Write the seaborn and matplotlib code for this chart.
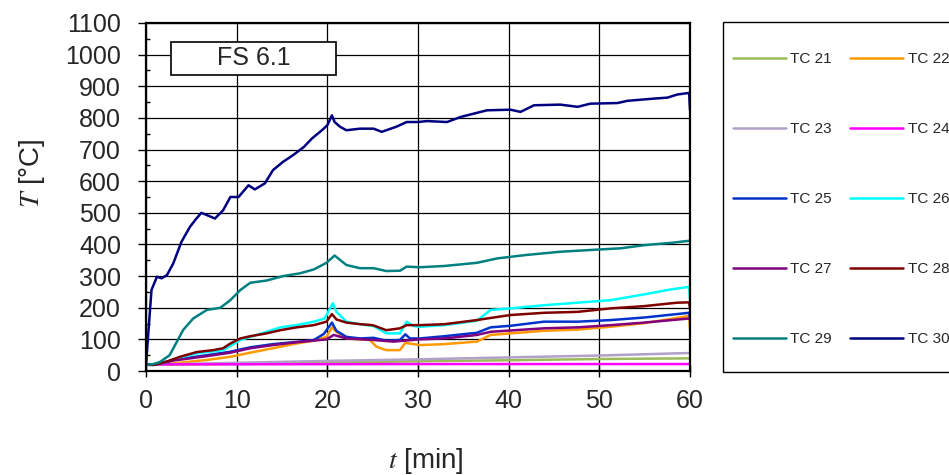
from matplotlib import pyplot as plt
from matplotlib.patches import Rectangle
import seaborn as sns
import pandas as pd

sns.set_theme(style="white")
plt.rcParams['font.family'] = ['Liberation Sans', 'DejaVu Sans']
plt.rcParams['mathtext.fontset'] = 'stix'

# Messstellen
names = ["TC 21", "TC 22", "TC 23", "TC 24", "TC 25",
         "TC 26", "TC 27", "TC 28", "TC 29", "TC 30"]
colors = ["#9BBB59", "#FF9900", "#B2A1C7", "#FF00FF", "#0033CC",
          "#00FFFF", "#800080", "#800000", "#008080", "#000080"]

# Zeit [min] und Temperatur [°C]
t21 = [0, 10, 20, 30, 40, 50, 60]
T21 = [20, 22, 26, 31, 34, 38, 40]

t22 = [0, 1, 3, 6.7, 9.3, 11.5, 14, 16.6, 18.5, 19.9, 20.5, 21, 22.1, 24.7, 25.4,
       26.5, 28, 28.6, 30.2, 32.9, 36.5, 38, 40.2, 43.9, 47.6, 51.25, 54.9, 59.9, 60]
T22 = [20, 20, 24, 35, 45, 58, 72, 87, 96, 108, 138, 124, 103, 98, 77,
       66, 66, 89, 82, 85, 93, 114, 119, 127, 131, 140, 151, 174, 131]

t23 = [0, 10, 20, 30, 40, 50, 60]
T23 = [20, 26, 32, 37, 43, 49, 57]

t24 = [0, 30, 60]
T24 = [21, 22, 22]

t25 = [0, 1, 3, 6.7, 9.3, 11.5, 14, 16.6, 18.5, 19.6, 20.5, 21, 22.1, 23.6, 25.1,
       26.5, 28, 28.6, 29.1, 30.2, 32.9, 36.5, 38, 40.2, 43.9, 47.6, 51.25, 54.9, 59.9, 60]
T25 = [20, 20, 35, 50, 61, 75, 85, 92, 98, 117, 153, 127, 108, 103, 105,
       96, 98, 116, 103, 103, 110, 121, 138, 143, 156, 156, 161, 169, 184, 169]

t26 = [0, 0.8, 2.3, 3.75, 5.6, 7.4, 8.5, 9.3, 10.4, 13.3, 14.8, 16.6, 18.5, 19.7, 20.6,
       21, 22.1, 23.6, 25.1, 26.5, 28, 28.75, 29.5, 30.2, 32.9, 36.5, 38, 40.2, 43.9,
       47.6, 51.25, 54.9, 57.9, 59.9, 60]
T26 = [20, 19, 28, 42, 56, 62, 66, 79, 98, 124, 138, 145, 156, 166, 214,
       187, 156, 148, 142, 119, 119, 156, 142, 140, 145, 159, 193, 198, 208,
       216, 224, 242, 258, 266, 224]

t27 = [0, 1, 3, 6.7, 9.3, 11.5, 14, 16.6, 18.5, 19.9, 20.7, 22.1, 25.1, 27.3, 30.2,
       32.9, 36.5, 38, 43.9, 47.6, 51.25, 54.9, 59.9, 60]
T27 = [20, 20, 33, 47, 58, 72, 82, 91, 96, 100, 114, 103, 98, 93, 100,
       103, 114, 124, 135, 138, 145, 153, 166, 163]

t28 = [0, 0.8, 2.3, 3.75, 5.6, 7.4, 8.5, 9.3, 10.4, 11.5, 13.3, 14.8, 16.6, 18.5, 19.9,
       20.5, 21, 22.1, 23.6, 25, 26.5, 28, 28.75, 30.2, 32.9, 36.5, 37.6, 40.2, 43.9,
       47.6, 51.25, 54.9, 58.6, 59.9, 60]
T28 = [20, 19, 30, 45, 60, 66, 72, 87, 103, 110, 119, 129, 138, 145, 156,
       180, 163, 153, 148, 145, 129, 135, 145, 145, 148, 161, 166, 177, 184,
       187, 198, 205, 216, 217, 198]

t29 = [0, 0.8, 1.5, 2.6, 4.1, 5.2, 6.7, 8.2, 9.3, 10.4, 11.5, 13.3, 15.1, 17, 18.5,
       19.9, 20.8, 22.1, 23.6, 25.1, 26.5, 28, 28.75, 30.2, 32.9, 36.5, 38.75, 42,
       45.7, 49.3, 52.4, 55, 57.9, 60]
T29 = [20, 22, 28, 50, 130, 166, 193, 200, 224, 256, 279, 286, 300, 309, 321,
       342, 365, 335, 325, 325, 316, 317, 330, 328, 332, 342, 356, 367,
       377, 383, 388, 398, 405, 412]

t30 = [0, 0.25, 0.6, 1.2, 1.7, 2.3, 3.0, 3.9, 4.85, 5.5, 6.1, 6.7, 7.6, 8.5, 9.3, 10.2,
       11.3, 12.0, 13.1, 14.0, 15.1, 16.2, 17.4, 18.3, 19.4, 20.0, 20.5, 20.8, 21.4,
       22.1, 23.6, 25.1, 26.0, 27.6, 28.75, 30, 31, 33.2, 34.7, 37.6, 40.2, 41.3, 42.8,
       45.7, 47.6, 49, 52, 53.1, 56, 57.5, 58.6, 59.9, 60]
T30 = [20, 120, 256, 298, 293, 303, 340, 408, 456, 480, 500, 493, 482, 508, 550, 550,
       587, 574, 593, 635, 661, 682, 708, 735, 761, 777, 808, 787, 772,
       761, 766, 766, 756, 772, 787, 787, 790, 787, 803, 824, 826, 819, 840,
       842, 835, 845, 847, 854, 861, 864, 874, 879, 824]

times = [t21, t22, t23, t24, t25, t26, t27, t28, t29, t30]
temps = [T21, T22, T23, T24, T25, T26, T27, T28, T29, T30]

rows = []
for n, ts, Ts in zip(names, times, temps):
    for a, b in zip(ts, Ts):
        rows.append({"TC": n, "t": a, "T": b})
df = pd.DataFrame(rows)

fig = plt.figure(figsize=(9.49, 4.75), dpi=100)
ax = fig.add_axes([0.1539, 0.2189, 0.5732, 0.7327])

sns.lineplot(data=df, x="t", y="T", hue="TC", hue_order=names,
             palette=dict(zip(names, colors)), estimator=None, sort=False,
             lw=1.8, ax=ax)

ax.set_xlim(0, 60)
ax.set_ylim(0, 1100)
ax.set_xticks(range(0, 61, 10))
ax.set_yticks(range(0, 1101, 100))
ax.set_yticks(range(50, 1100, 100), minor=True)
ax.grid(True, which="major", color="black", lw=0.9)
for s in ax.spines.values():
    s.set_color("black")
    s.set_linewidth(1.6)
ax.tick_params(axis="y", which="major", direction="out", length=6, width=1,
               color="black", labelsize=18, pad=12, left=True)
ax.tick_params(axis="y", which="minor", direction="in", length=3, width=1,
               color="black", left=True)
ax.tick_params(axis="x", which="major", direction="inout", length=8, width=1,
               color="black", labelsize=18, pad=9, bottom=True)

ax.set_xlabel(r"$t$ [min]", fontsize=20)
ax.set_ylabel(r"$T$ [°C]", fontsize=20)
ax.xaxis.set_label_coords(0.515, -0.215)
ax.yaxis.set_label_coords(-0.182, 0.57)

# Versuchsbezeichnung
ax.add_patch(Rectangle((0.046, 0.851), 0.303, 0.094, transform=ax.transAxes,
                       facecolor="white", edgecolor="black", lw=1.2, zorder=5))
ax.text(0.1975, 0.898, "FS 6.1", transform=ax.transAxes, fontsize=18,
        ha="center", va="center", zorder=6)

# Legende
handles, labels = ax.get_legend_handles_labels()
ax.get_legend().remove()
order = list(range(0, 10, 2)) + list(range(1, 10, 2))
fig.patches.append(Rectangle((0.7618, 0.2168), 0.26, 0.737, transform=fig.transFigure,
                             facecolor="white", edgecolor="black", lw=1.0))
fig.legend([handles[i] for i in order], [labels[i] for i in order], ncol=2,
           loc="upper left", bbox_to_anchor=(0.7724, 0.890), frameon=False,
           fontsize=11, handlelength=3.45, handletextpad=0.3, columnspacing=1.2,
           labelspacing=3.66, borderpad=0, borderaxespad=0)

plt.savefig("out.png", dpi=100)
